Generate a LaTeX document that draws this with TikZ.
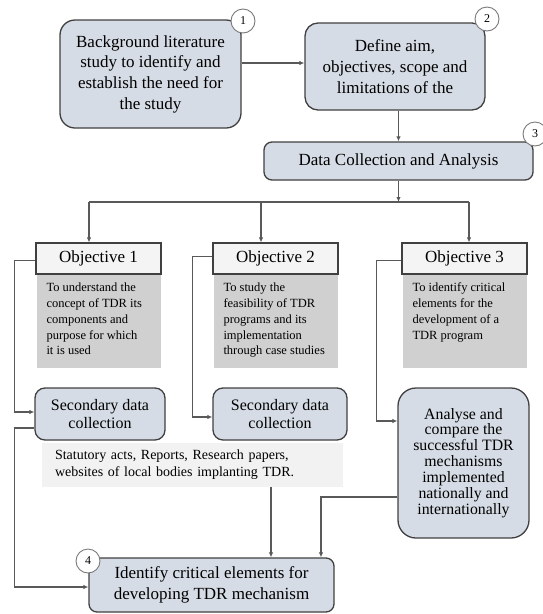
\documentclass[tikz,border=0pt]{standalone}
\usepackage{fontspec}
\setmainfont{Liberation Serif}
\usetikzlibrary{arrows.meta}
\definecolor{boxfill}{HTML}{D6DCE5}
\definecolor{boxline}{HTML}{404040}
\definecolor{conn}{HTML}{595959}
\definecolor{bodyfill}{HTML}{D0D0D0}
\definecolor{hdrfill}{HTML}{F4F4F4}
\definecolor{statfill}{HTML}{F2F2F2}
\tikzset{
  mainbox/.style={draw=boxline, line width=1.3pt, fill=boxfill, inner sep=0pt, align=center,
    font=\fontsize{17}{20.7}\selectfont},
  hdrbox/.style={draw=boxline, line width=1.1pt, fill=hdrfill, inner sep=0pt, minimum width=125pt,
    minimum height=31pt, font=\fontsize{17}{20}\selectfont},
  bodybox/.style={fill=bodyfill, inner sep=0pt, minimum width=124pt, minimum height=94pt},
  bodytext/.style={inner sep=0pt, align=left, anchor=north west, font=\fontsize{12.5}{15.8}\selectfont},
  numcirc/.style={circle, draw=conn!80, line width=0.9pt, fill=white, minimum size=24pt, inner sep=0pt,
    font=\fontsize{12}{12}\selectfont},
  line/.style={draw=conn, line width=1.2pt},
  arr/.style={line, -{Latex[length=5pt,width=4.5pt]}},
}
\begin{document}
\begin{tikzpicture}[x=1pt,y=-1pt]
\useasboundingbox (0,0) rectangle (542,614);

% main boxes
\node[mainbox, rounded corners=15pt, minimum width=181pt, minimum height=108pt] (b1) at (150.5,74)
  {Background literature\\study to identify and\\establish the need for\\the study};
\node[mainbox, rounded corners=13pt, minimum width=180pt, minimum height=87pt] (b2) at (395,66.5)
  {Define aim,\\objectives, scope and\\limitations of the};
\node[mainbox, rounded corners=8pt, minimum width=269pt, minimum height=38pt] (b3) at (398.5,161)
  {Data Collection and Analysis};

% objectives
\node[bodybox] (o1b) at (98.5,321) {};
\node[bodybox] (o2b) at (275.5,321) {};
\node[bodybox] (o3b) at (464.5,321) {};
\node[hdrbox] (o1h) at (98.5,258.5) {Objective 1};
\node[hdrbox] (o2h) at (275.5,258.5) {Objective 2};
\node[hdrbox] (o3h) at (464.5,258.5) {Objective 3};
\node[bodytext] (o1t) at ([xshift=10pt,yshift=-9pt]o1b.north west)
  {To understand the\\concept of TDR its\\components and\\purpose for which\\it is used};
\node[bodytext] (o2t) at ([xshift=10pt,yshift=-9pt]o2b.north west)
  {To study the\\feasibility of TDR\\programs and its\\implementation\\through case studies};
\node[bodytext] (o3t) at ([xshift=10pt,yshift=-9pt]o3b.north west)
  {To identify critical\\elements for the\\development of a\\TDR program};

% lower boxes
\node[mainbox, rounded corners=10pt, minimum width=130pt, minimum height=52pt,
  font=\fontsize{16}{18.6}\selectfont] (s1) at (100,414) {Secondary data\\collection};
\node[mainbox, rounded corners=10pt, minimum width=134pt, minimum height=52pt,
  font=\fontsize{16}{18.6}\selectfont] (s2) at (280,414) {Secondary data\\collection};
\node[mainbox, rounded corners=18pt, minimum width=131pt, minimum height=150pt,
  font=\fontsize{15.8}{15.9}\selectfont] (an) at (463.5,463)
  {Analyse and\\compare the\\successful TDR\\mechanisms\\implemented\\nationally and\\internationally};
\node[fill=statfill, inner xsep=13pt, inner ysep=0pt, text width=275pt, minimum height=44pt, align=left,
  font=\fontsize{14}{17}\selectfont] (st) at (192.5,465)
  {Statutory acts, Reports, Research papers,\\websites of local bodies implanting TDR.};
\node[mainbox, rounded corners=8pt, minimum width=245pt, minimum height=54pt] (b4) at (211.5,585)
  {Identify critical elements for\\developing TDR mechanism};

% connectors
\draw[arr] ([yshift=11pt]b1.east) -- ([yshift=11pt]b1.east -| b2.west);
\draw[arr] (b3.north |- b2.south) -- (b3.north);
\coordinate (j) at (398.5,202);
\coordinate (jl) at (89,202);
\coordinate (jm) at (261,202);
\coordinate (jr) at (469,202);
\draw[arr] (b3.south) -- (j);
\draw[line] (jl) -- (jr);
\draw[arr] (jl) -- (jl |- o1h.north);
\draw[arr] (jm) -- (jm |- o2h.north);
\draw[arr] (jr) -- (jr |- o3h.north);

\draw[arr] ([yshift=-2pt]o1h.west) -- ++(-21,0) |- ([yshift=2pt]s1.west);
\draw[arr] ([yshift=2pt]o2h.west) -- ++(-20,0) |- ([yshift=-3pt]s2.west);
\draw[arr] ([yshift=-2pt]o3h.west) -- ++(-25,0) |- ([yshift=42pt]an.west);

\draw[arr] ([yshift=-14pt]s1.west) -- ++(-20,0) |- ([yshift=-2pt]b4.west);
\draw[arr] ([xshift=78.5pt]st.south) -- ([xshift=78.5pt]st.south |- b4.north);
\draw[arr] ([yshift=-34pt]an.west) -| ([xshift=109.5pt]b4.north);

% number circles
\node[numcirc] (c1) at (243,21) {1};
\node[numcirc] (c2) at (487,19) {2};
\node[numcirc] (c3) at (535,134) {3};
\node[numcirc] (c4) at (88,561) {4};
\end{tikzpicture}
\end{document}
